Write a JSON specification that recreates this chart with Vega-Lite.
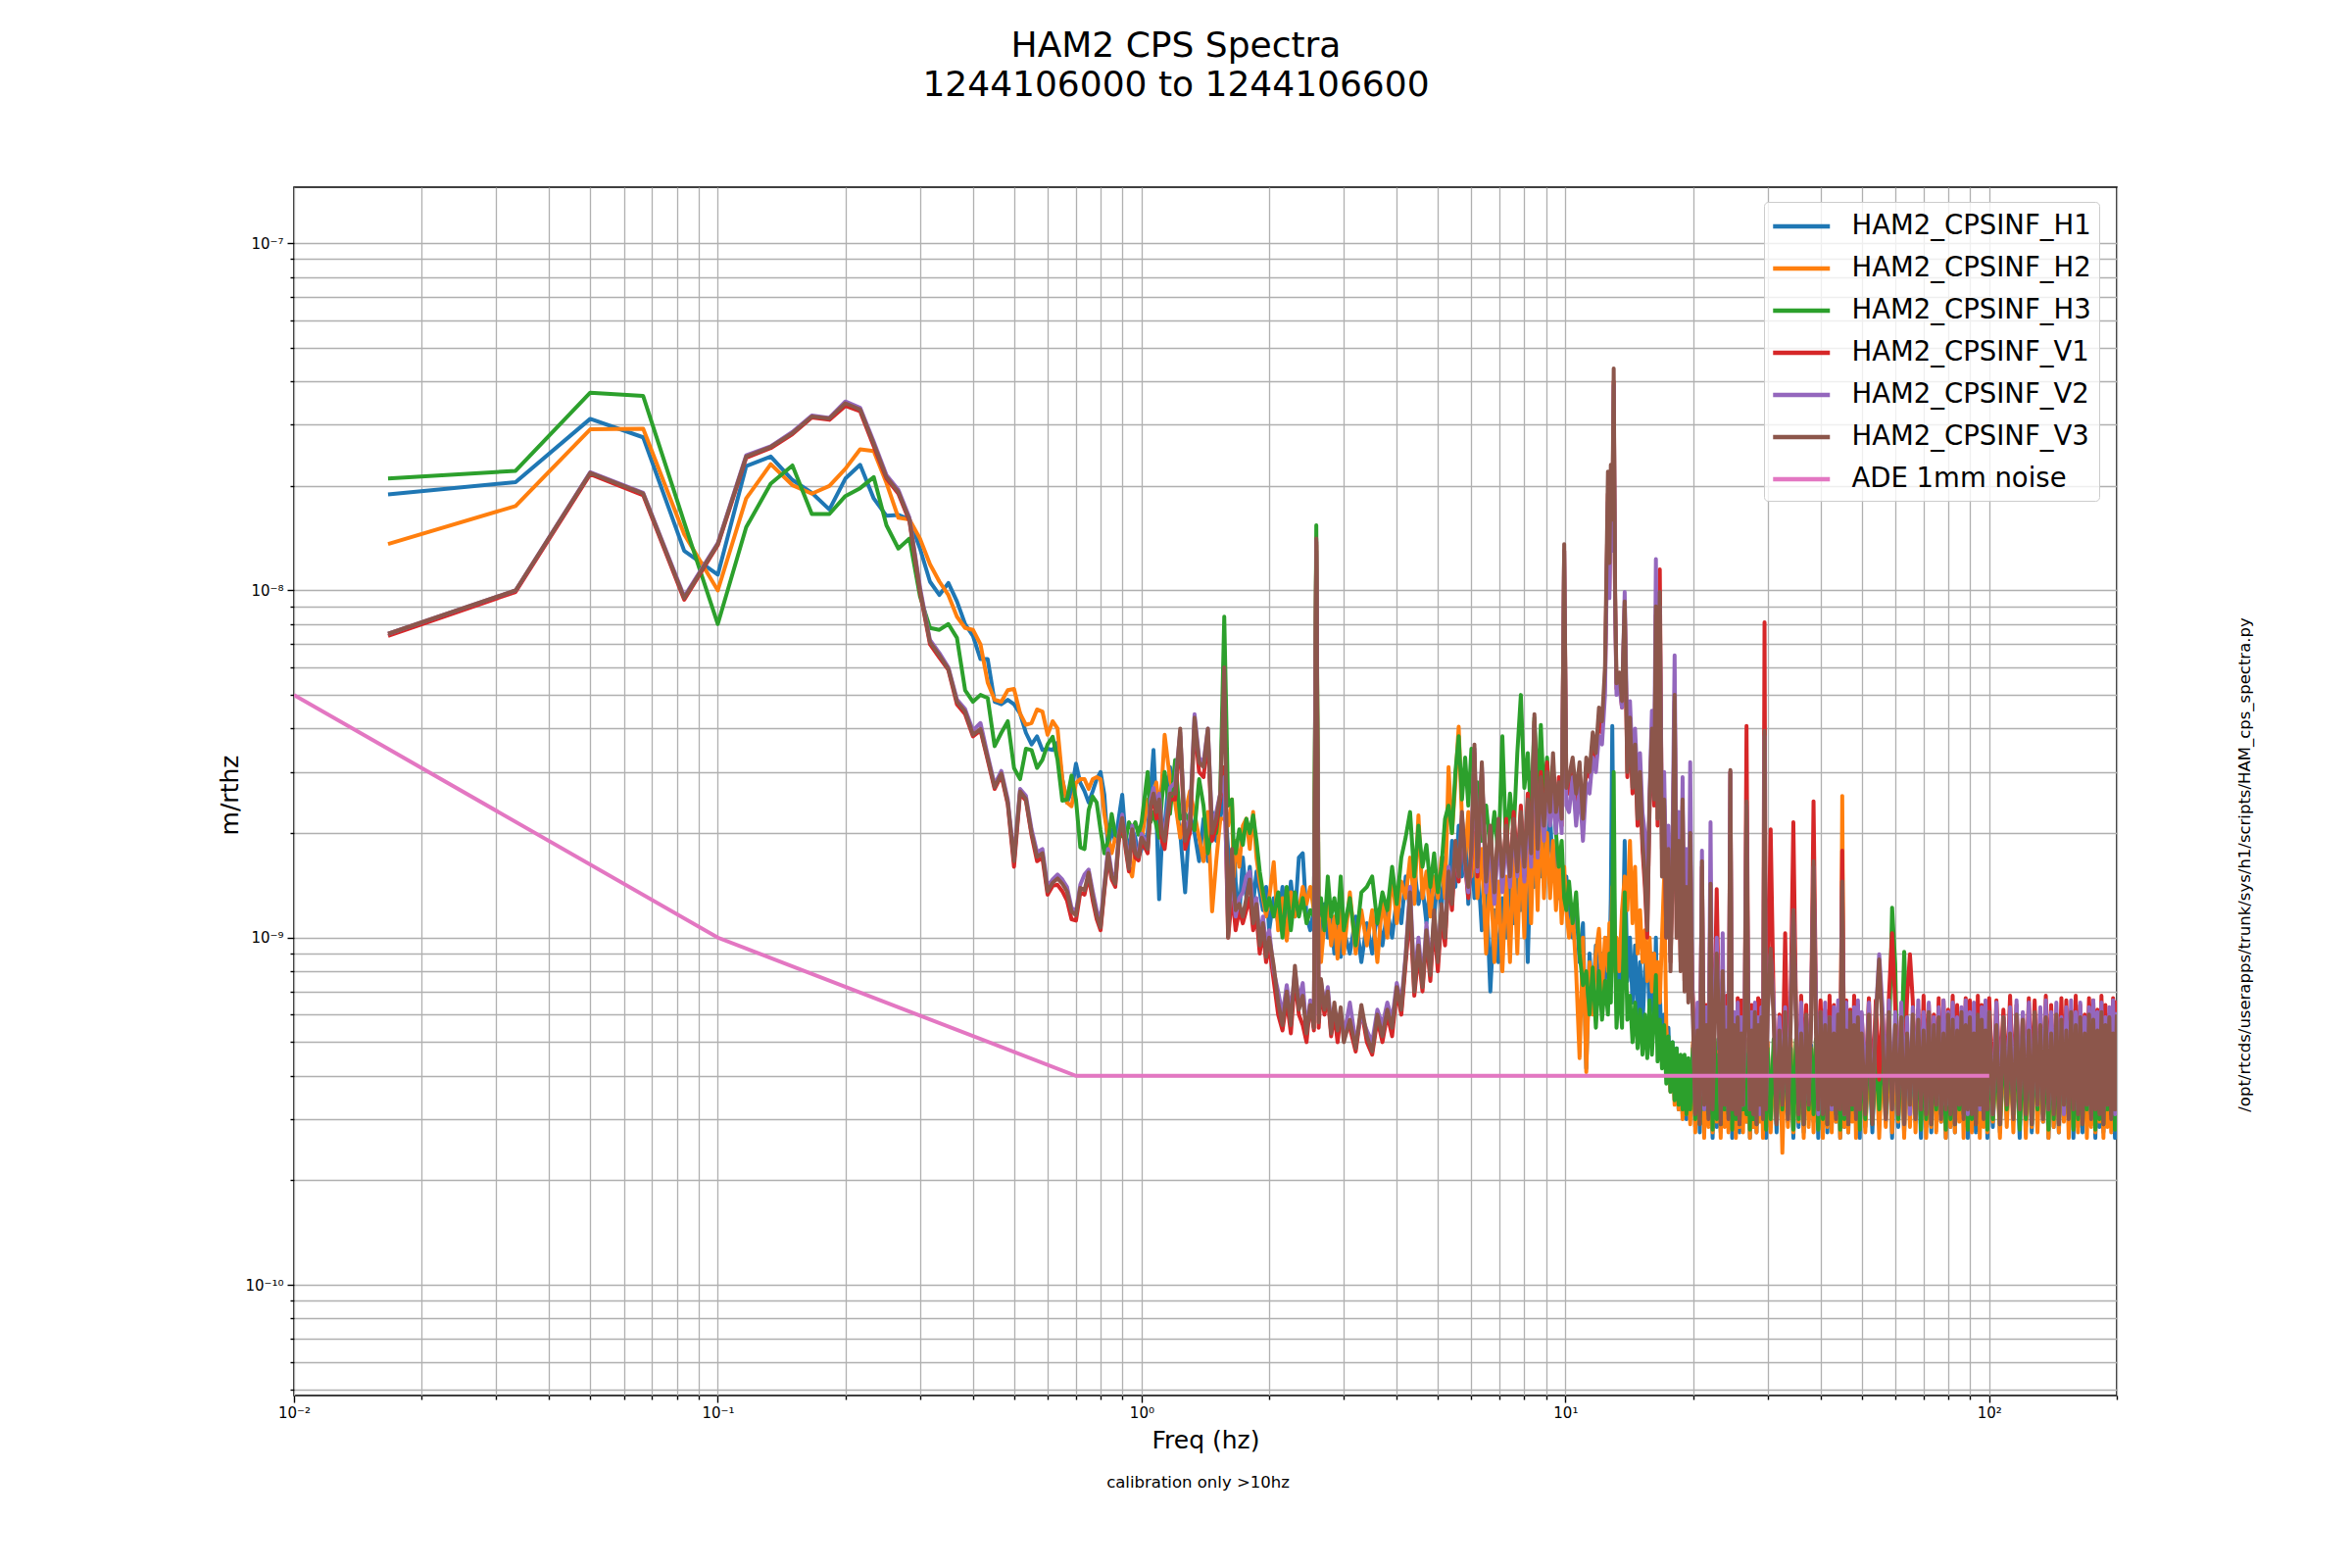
{
  "$schema": "https://vega.github.io/schema/vega-lite/v6.json",
  "description": "HAM2 CPS amplitude spectral densities, six sensors plus the ADE 1mm noise reference.",
  "width": 1860,
  "height": 1233,
  "autosize": {"type": "none"},
  "padding": {"left": 300, "top": 191, "right": 240, "bottom": 176},
  "background": "white",
  "config": {
    "font": "DejaVu Sans",
    "view": {"stroke": "black", "strokeWidth": 1.6}
  },
  "title": {
    "text": ["HAM2 CPS Spectra", "1244106000 to 1244106600"],
    "anchor": "middle",
    "frame": "group",
    "dx": -30,
    "offset": 85,
    "fontSize": 36,
    "fontWeight": "normal",
    "font": "DejaVu Sans",
    "lineHeight": 40,
    "color": "black"
  },
  "datasets": {
    "cps": [
      {"f":0.01667,"H1":1.89e-8,"H2":1.36e-8,"H3":2.10e-8,"V1":7.4e-9,"V2":7.5e-9,"V3":7.5e-9},
      {"f":0.03333,"H1":2.05e-8,"H2":1.75e-8,"H3":2.21e-8,"V1":9.9e-9,"V2":1.0e-8,"V3":1.0e-8},
      {"f":0.05,"H1":3.12e-8,"H2":2.91e-8,"H3":3.71e-8,"V1":2.16e-8,"V2":2.19e-8,"V3":2.18e-8},
      {"f":0.06667,"H1":2.76e-8,"H2":2.92e-8,"H3":3.63e-8,"V1":1.88e-8,"V2":1.91e-8,"V3":1.9e-8},
      {"f":0.08333,"H1":1.30e-8,"H2":1.45e-8,"H3":1.57e-8,"V1":9.4e-9,"V2":9.6e-9,"V3":9.5e-9},
      {"f":0.1,"H1":1.11e-8,"H2":1.0e-8,"H3":8.0e-9,"V1":1.35e-8,"V2":1.37e-8,"V3":1.36e-8},
      {"f":0.11667,"H1":2.28e-8,"H2":1.84e-8,"H3":1.52e-8,"V1":2.41e-8,"V2":2.45e-8,"V3":2.43e-8},
      {"f":0.13333,"H1":2.43e-8,"H2":2.31e-8,"H3":2.03e-8,"V1":2.57e-8,"V2":2.6e-8,"V3":2.59e-8},
      {"f":0.15,"H1":2.08e-8,"H2":2.01e-8,"H3":2.29e-8,"V1":2.82e-8,"V2":2.86e-8,"V3":2.84e-8},
      {"f":0.16667,"H1":1.91e-8,"H2":1.9e-8,"H3":1.66e-8,"V1":3.15e-8,"V2":3.19e-8,"V3":3.17e-8},
      {"f":0.18333,"H1":1.71e-8,"H2":2.0e-8,"H3":1.66e-8,"V1":3.1e-8,"V2":3.14e-8,"V3":3.13e-8},
      {"f":0.2,"H1":2.1e-8,"H2":2.24e-8,"H3":1.87e-8,"V1":3.4e-8,"V2":3.5e-8,"V3":3.46e-8},
      {"f":0.21667,"H1":2.3e-8,"H2":2.55e-8,"H3":1.97e-8,"V1":3.28e-8,"V2":3.36e-8,"V3":3.32e-8},
      {"f":0.23333,"H1":1.84e-8,"H2":2.52e-8,"H3":2.12e-8,"V1":2.6e-8,"V2":2.68e-8,"V3":2.64e-8},
      {"f":0.25,"H1":1.64e-8,"H2":2.04e-8,"H3":1.54e-8,"V1":2.1e-8,"V2":2.15e-8,"V3":2.12e-8},
      {"f":0.26667,"H1":1.65e-8,"H2":1.62e-8,"H3":1.32e-8,"V1":1.9e-8,"V2":1.95e-8,"V3":1.92e-8},
      {"f":0.28333,"H1":1.6e-8,"H2":1.6e-8,"H3":1.41e-8,"V1":1.58e-8,"V2":1.62e-8,"V3":1.6e-8},
      {"f":0.3,"H1":1.32e-8,"H2":1.41e-8,"H3":9.6e-9,"V1":9.9e-9,"V2":1.02e-8,"V3":1.0e-8},
      {"f":0.31667,"H1":1.06e-8,"H2":1.19e-8,"H3":7.8e-9,"V1":7.0e-9,"V2":7.2e-9,"V3":7.1e-9},
      {"f":0.33333,"H1":9.7e-9,"H2":1.06e-8,"H3":7.7e-9,"V1":6.4e-9,"V2":6.6e-9,"V3":6.5e-9},
      {"f":0.35,"H1":1.05e-8,"H2":9.7e-9,"H3":8.0e-9,"V1":5.9e-9,"V2":6.0e-9,"V3":5.94e-9},
      {"f":0.36667,"H1":9.3e-9,"H2":8.4e-9,"H3":7.3e-9,"V1":4.7e-9,"V2":4.85e-9,"V3":4.78e-9},
      {"f":0.38333,"H1":8.0e-9,"H2":7.8e-9,"H3":5.16e-9,"V1":4.4e-9,"V2":4.55e-9,"V3":4.48e-9},
      {"f":0.4,"H1":7.4e-9,"H2":7.7e-9,"H3":4.78e-9,"V1":3.8e-9,"V2":3.95e-9,"V3":3.84e-9},
      {"f":0.41667,"H1":6.34e-9,"H2":7.0e-9,"H3":5.0e-9,"V1":3.95e-9,"V2":4.15e-9,"V3":3.99e-9},
      {"f":0.43333,"H1":6.34e-9,"H2":5.43e-9,"H3":4.9e-9,"V1":3.25e-9,"V2":3.35e-9,"V3":3.29e-9},
      {"f":0.45,"H1":4.78e-9,"H2":4.84e-9,"H3":3.56e-9,"V1":2.68e-9,"V2":2.76e-9,"V3":2.71e-9},
      {"f":0.46667,"H1":4.7e-9,"H2":4.78e-9,"H3":3.89e-9,"V1":2.93e-9,"V2":3.02e-9,"V3":2.97e-9},
      {"f":0.48333,"H1":4.84e-9,"H2":5.16e-9,"H3":4.2e-9,"V1":2.42e-9,"V2":2.5e-9,"V3":2.45e-9},
      {"f":0.5,"H1":4.7e-9,"H2":5.2e-9,"H3":3.08e-9,"V1":1.6e-9,"V2":1.7e-9,"V3":1.66e-9},
      {"f":0.51667,"H1":4.42e-9,"H2":4.42e-9,"H3":2.86e-9,"V1":2.6e-9,"V2":2.68e-9,"V3":2.64e-9},
      {"f":0.53333,"H1":3.89e-9,"H2":4.1e-9,"H3":3.5e-9,"V1":2.48e-9,"V2":2.56e-9,"V3":2.51e-9},
      {"f":0.55,"H1":3.6e-9,"H2":4.15e-9,"H3":3.47e-9,"V1":1.97e-9,"V2":2.05e-9,"V3":2.0e-9},
      {"f":0.56667,"H1":3.8e-9,"H2":4.54e-9,"H3":3.08e-9,"V1":1.66e-9,"V2":1.76e-9,"V3":1.71e-9},
      {"f":0.58333,"H1":3.47e-9,"H2":4.48e-9,"H3":3.25e-9,"V1":1.7e-9,"V2":1.8e-9,"V3":1.75e-9},
      {"f":0.6,"H1":3.5e-9,"H2":3.84e-9,"H3":3.6e-9,"V1":1.33e-9,"V2":1.4e-9,"V3":1.36e-9},
      {"f":0.61667,"H1":3.47e-9,"H2":4.2e-9,"H3":3.79e-9,"V1":1.41e-9,"V2":1.47e-9,"V3":1.44e-9},
      {"f":0.63333,"H1":3.65e-9,"H2":4.0e-9,"H3":3.25e-9,"V1":1.42e-9,"V2":1.52e-9,"V3":1.48e-9},
      {"f":0.65,"H1":2.86e-9,"H2":2.86e-9,"H3":2.48e-9,"V1":1.36e-9,"V2":1.47e-9,"V3":1.43e-9},
      {"f":0.66667,"H1":2.45e-9,"H2":2.45e-9,"H3":2.5e-9,"V1":1.28e-9,"V2":1.4e-9,"V3":1.36e-9},
      {"f":0.68333,"H1":2.64e-9,"H2":2.39e-9,"H3":2.93e-9,"V1":1.13e-9,"V2":1.22e-9,"V3":1.19e-9},
      {"f":0.7,"H1":3.17e-9,"H2":2.79e-9,"H3":2.5e-9,"V1":1.12e-9,"V2":1.19e-9,"V3":1.16e-9},
      {"f":0.71667,"H1":2.79e-9,"H2":2.86e-9,"H3":1.82e-9,"V1":1.35e-9,"V2":1.42e-9,"V3":1.39e-9},
      {"f":0.73333,"H1":2.64e-9,"H2":2.86e-9,"H3":1.8e-9,"V1":1.33e-9,"V2":1.52e-9,"V3":1.37e-9},
      {"f":0.75,"H1":2.45e-9,"H2":2.68e-9,"H3":2.33e-9,"V1":1.5e-9,"V2":1.57e-9,"V3":1.54e-9},
      {"f":0.76667,"H1":2.64e-9,"H2":2.86e-9,"H3":2.55e-9,"V1":1.28e-9,"V2":1.36e-9,"V3":1.32e-9},
      {"f":0.78333,"H1":2.86e-9,"H2":2.9e-9,"H3":2.45e-9,"V1":1.13e-9,"V2":1.2e-9,"V3":1.16e-9},
      {"f":0.8,"H1":3.0e-9,"H2":2.86e-9,"H3":2.04e-9,"V1":1.05e-9,"V2":1.12e-9,"V3":1.07e-9},
      {"f":0.81667,"H1":2.58e-9,"H2":2.27e-9,"H3":1.75e-9,"V1":1.36e-9,"V2":1.42e-9,"V3":1.39e-9},
      {"f":0.83333,"H1":1.8e-9,"H2":1.94e-9,"H3":1.9e-9,"V1":1.7e-9,"V2":1.8e-9,"V3":1.75e-9},
      {"f":0.85,"H1":2.05e-9,"H2":1.75e-9,"H3":2.27e-9,"V1":1.47e-9,"V2":1.54e-9,"V3":1.5e-9},
      {"f":0.86667,"H1":1.9e-9,"H2":1.94e-9,"H3":1.98e-9,"V1":1.4e-9,"V2":1.47e-9,"V3":1.43e-9},
      {"f":0.88333,"H1":2.21e-9,"H2":1.9e-9,"H3":1.94e-9,"V1":1.9e-9,"V2":1.98e-9,"V3":1.94e-9},
      {"f":0.9,"H1":2.58e-9,"H2":2.1e-9,"H3":1.98e-9,"V1":2.17e-9,"V2":2.26e-9,"V3":2.21e-9},
      {"f":0.91667,"H1":1.94e-9,"H2":1.9e-9,"H3":1.9e-9,"V1":1.8e-9,"V2":1.9e-9,"V3":1.85e-9},
      {"f":0.93333,"H1":1.85e-9,"H2":1.6e-9,"H3":2.15e-9,"V1":1.55e-9,"V2":1.62e-9,"V3":1.58e-9},
      {"f":0.95,"H1":2.05e-9,"H2":1.5e-9,"H3":2.05e-9,"V1":2.0e-9,"V2":2.1e-9,"V3":2.05e-9},
      {"f":0.96667,"H1":1.94e-9,"H2":1.8e-9,"H3":2.15e-9,"V1":1.7e-9,"V2":1.8e-9,"V3":1.75e-9},
      {"f":0.98333,"H1":1.71e-9,"H2":1.71e-9,"H3":1.98e-9,"V1":1.67e-9,"V2":1.76e-9,"V3":1.71e-9},
      {"f":1.0,"H1":1.8e-9,"H2":1.9e-9,"H3":2.15e-9,"V1":1.9e-9,"V2":1.99e-9,"V3":1.94e-9},
      {"f":1.0333,"H1":2.0e-9,"H2":2.5e-9,"H3":3.0e-9,"V1":1.75e-9,"V2":1.85e-9,"V3":1.8e-9},
      {"f":1.05,"H1":2.64e-9,"H2":2.33e-9,"H3":2.15e-9,"V1":2.35e-9,"V2":2.5e-9,"V3":2.4e-9},
      {"f":1.0667,"H1":3.47e-9,"H2":2.6e-9,"H3":2.3e-9,"V1":2.5e-9,"V2":2.7e-9,"V3":2.6e-9},
      {"f":1.0833,"H1":2.3e-9,"H2":2.8e-9,"H3":2.1e-9,"V1":2.2e-9,"V2":2.4e-9,"V3":2.3e-9},
      {"f":1.1,"H1":1.29e-9,"H2":2.33e-9,"H3":1.94e-9,"V1":2.4e-9,"V2":2.6e-9,"V3":2.5e-9},
      {"f":1.1167,"H1":1.9e-9,"H2":2.8e-9,"H3":2.5e-9,"V1":1.9e-9,"V2":2.1e-9,"V3":2.0e-9},
      {"f":1.1333,"H1":2.1e-9,"H2":3.84e-9,"H3":3.0e-9,"V1":1.8e-9,"V2":2.0e-9,"V3":1.9e-9},
      {"f":1.1667,"H1":3.1e-9,"H2":2.86e-9,"H3":2.27e-9,"V1":2.5e-9,"V2":2.7e-9,"V3":2.6e-9},
      {"f":1.2,"H1":2.5e-9,"H2":2.45e-9,"H3":3.25e-9,"V1":2.5e-9,"V2":2.8e-9,"V3":2.6e-9},
      {"f":1.2333,"H1":2.0e-9,"H2":1.94e-9,"H3":2.2e-9,"V1":3.8e-9,"V2":3.9e-9,"V3":4.0e-9},
      {"f":1.2667,"H1":1.35e-9,"H2":2.27e-9,"H3":2.27e-9,"V1":1.8e-9,"V2":2.0e-9,"V3":1.9e-9},
      {"f":1.3,"H1":2.27e-9,"H2":2.64e-9,"H3":2.15e-9,"V1":2.0e-9,"V2":2.2e-9,"V3":2.1e-9},
      {"f":1.3333,"H1":2.0e-9,"H2":2.27e-9,"H3":2.04e-9,"V1":4.1e-9,"V2":4.4e-9,"V3":4.3e-9},
      {"f":1.3667,"H1":1.66e-9,"H2":1.94e-9,"H3":2.86e-9,"V1":3.0e-9,"V2":3.3e-9,"V3":3.2e-9},
      {"f":1.4,"H1":2.2e-9,"H2":1.66e-9,"H3":2.4e-9,"V1":2.9e-9,"V2":3.2e-9,"V3":3.1e-9},
      {"f":1.4333,"H1":1.66e-9,"H2":2.3e-9,"H3":1.75e-9,"V1":3.8e-9,"V2":4.0e-9,"V3":4.0e-9},
      {"f":1.4667,"H1":2.3e-9,"H2":1.19e-9,"H3":2.04e-9,"V1":1.9e-9,"V2":2.1e-9,"V3":2.0e-9},
      {"f":1.5,"H1":1.9e-9,"H2":1.66e-9,"H3":2.0e-9,"V1":2.1e-9,"V2":2.3e-9,"V3":2.2e-9},
      {"f":1.5333,"H1":2.2e-9,"H2":2.2e-9,"H3":2.6e-9,"V1":2.5e-9,"V2":2.6e-9,"V3":2.6e-9},
      {"f":1.5667,"H1":2.6e-9,"H2":2.2e-9,"H3":8.4e-9,"V1":3.1e-9,"V2":2.9e-9,"V3":6.0e-9},
      {"f":1.6,"H1":1.8e-9,"H2":2.1e-9,"H3":2.4e-9,"V1":1.0e-9,"V2":1.1e-9,"V3":1.0e-9},
      {"f":1.6333,"H1":1.5e-9,"H2":2.5e-9,"H3":2.5e-9,"V1":1.3e-9,"V2":1.5e-9,"V3":1.8e-9},
      {"f":1.65,"H1":1.9e-9,"H2":1.5e-9,"H3":1.8e-9,"V1":1.2e-9,"V2":1.3e-9,"V3":1.4e-9},
      {"f":1.6667,"H1":1.45e-9,"H2":1.9e-9,"H3":1.75e-9,"V1":1.05e-9,"V2":1.15e-9,"V3":1.2e-9},
      {"f":1.7,"H1":1.15e-9,"H2":1.6e-9,"H3":2.05e-9,"V1":1.2e-9,"V2":1.3e-9,"V3":1.25e-9},
      {"f":1.7333,"H1":1.7e-9,"H2":2.1e-9,"H3":1.85e-9,"V1":1.1e-9,"V2":1.35e-9,"V3":1.15e-9},
      {"f":1.7667,"H1":1.3e-9,"H2":2.2e-9,"H3":2.2e-9,"V1":1.2e-9,"V2":1.5e-9,"V3":1.3e-9},
      {"f":1.8,"H1":1.6e-9,"H2":1.8e-9,"H3":2.0e-9,"V1":1.3e-9,"V2":1.55e-9,"V3":1.47e-9},
      {"f":1.8333,"H1":1.25e-9,"H2":2.3e-9,"H3":2.25e-9,"V1":1.05e-9,"V2":1.2e-9,"V3":1.1e-9},
      {"f":1.8667,"H1":1.55e-9,"H2":1.7e-9,"H3":1.9e-9,"V1":1.15e-9,"V2":1.3e-9,"V3":1.25e-9},
      {"f":1.9,"H1":1.35e-9,"H2":1.45e-9,"H3":1.55e-9,"V1":9.0e-10,"V2":1.0e-9,"V3":9.5e-10},
      {"f":1.9333,"H1":1.2e-9,"H2":1.3e-9,"H3":1.35e-9,"V1":1.05e-9,"V2":1.15e-9,"V3":1.1e-9},
      {"f":1.9667,"H1":1.4e-9,"H2":1.15e-9,"H3":1.2e-9,"V1":8.5e-10,"V2":9.5e-10,"V3":8.8e-10},
      {"f":2.0,"H1":1.05e-9,"H2":1.3e-9,"H3":1.3e-9,"V1":9.5e-10,"V2":1.05e-9,"V3":1.0e-9},
      {"f":2.05,"H1":1.3e-9,"H2":1.65e-9,"H3":1.15e-9,"V1":7.5e-10,"V2":8.0e-10,"V3":8.3e-10},
      {"f":2.1,"H1":1.1e-9,"H2":1.05e-9,"H3":1.35e-9,"V1":6.0e-10,"V2":7.0e-10,"V3":6.5e-10},
      {"f":2.15,"H1":1.4e-9,"H2":1.3e-9,"H3":1.0e-9,"V1":5.4e-10,"V2":6.0e-10,"V3":5.6e-10},
      {"f":2.2,"H1":1.0e-9,"H2":9.8e-10,"H3":1.4e-9,"V1":6.6e-10,"V2":7.3e-10,"V3":7.0e-10},
      {"f":2.25,"H1":1.45e-9,"H2":1.35e-9,"H3":1.05e-9,"V1":5.3e-10,"V2":6.1e-10,"V3":5.6e-10},
      {"f":2.3,"H1":1.15e-9,"H2":1.15e-9,"H3":1.35e-9,"V1":7.6e-10,"V2":8.0e-10,"V3":8.3e-10},
      {"f":2.35,"H1":1.7e-9,"H2":1.2e-9,"H3":1.15e-9,"V1":6.0e-10,"V2":6.6e-10,"V3":6.2e-10},
      {"f":2.4,"H1":1.75e-9,"H2":1.4e-9,"H3":1.3e-9,"V1":5.6e-10,"V2":7.4e-10,"V3":6.8e-10},
      {"f":2.45,"H1":1.15e-9,"H2":1.25e-9,"H3":1.1e-9,"V1":5.0e-10,"V2":5.4e-10,"V3":5.3e-10},
      {"f":2.5,"H1":1.05e-9,"H2":1.4e-9,"H3":1.2e-9,"V1":6.5e-10,"V2":6.6e-10,"V3":6.4e-10},
      {"f":2.55,"H1":1.2e-9,"H2":1.2e-9,"H3":1.15e-9,"V1":5.4e-10,"V2":5.8e-10,"V3":5.5e-10},
      {"f":2.5833,"H1":1.3e-8,"H2":1.35e-8,"H3":1.54e-8,"V1":1.38e-8,"V2":1.39e-8,"V3":1.41e-8},
      {"f":2.6167,"H1":1.1e-9,"H2":1.2e-9,"H3":1.15e-9,"V1":5.5e-10,"V2":6.0e-10,"V3":5.7e-10},
      {"f":2.65,"H1":9.5e-10,"H2":8.5e-10,"H3":1.3e-9,"V1":7.2e-10,"V2":7.5e-10,"V3":7.6e-10},
      {"f":2.7,"H1":1.25e-9,"H2":1.1e-9,"H3":1.05e-9,"V1":6.0e-10,"V2":6.4e-10,"V3":6.2e-10},
      {"f":2.75,"H1":1.0e-9,"H2":1.25e-9,"H3":1.5e-9,"V1":6.8e-10,"V2":7.2e-10,"V3":7.0e-10},
      {"f":2.8,"H1":1.15e-9,"H2":9.5e-10,"H3":1.15e-9,"V1":5.2e-10,"V2":5.6e-10,"V3":5.3e-10},
      {"f":2.85,"H1":9.0e-10,"H2":1.15e-9,"H3":1.3e-9,"V1":6.0e-10,"V2":6.2e-10,"V3":6.5e-10},
      {"f":2.9,"H1":1.1e-9,"H2":8.7e-10,"H3":1.1e-9,"V1":5.0e-10,"V2":5.8e-10,"V3":5.4e-10},
      {"f":2.95,"H1":8.8e-10,"H2":1.2e-9,"H3":1.5e-9,"V1":6.0e-10,"V2":6.1e-10,"V3":6.3e-10},
      {"f":3.0,"H1":1.05e-9,"H2":9.0e-10,"H3":1.05e-9,"V1":5.4e-10,"V2":5.2e-10,"V3":5.0e-10},
      {"f":3.1,"H1":9.0e-10,"H2":1.35e-9,"H3":1.3e-9,"V1":5.5e-10,"V2":6.5e-10,"V3":5.8e-10},
      {"f":3.2,"H1":1.15e-9,"H2":9.0e-10,"H3":9.5e-10,"V1":4.7e-10,"V2":5.0e-10,"V3":4.8e-10},
      {"f":3.3,"H1":8.5e-10,"H2":1.2e-9,"H3":1.35e-9,"V1":6.2e-10,"V2":6.0e-10,"V3":6.4e-10},
      {"f":3.4,"H1":1.1e-9,"H2":9.5e-10,"H3":1.4e-9,"V1":5.0e-10,"V2":5.4e-10,"V3":5.2e-10},
      {"f":3.5,"H1":9.0e-10,"H2":1.2e-9,"H3":1.5e-9,"V1":4.6e-10,"V2":5.0e-10,"V3":4.7e-10},
      {"f":3.6,"H1":1.2e-9,"H2":8.5e-10,"H3":1.1e-9,"V1":5.8e-10,"V2":6.2e-10,"V3":6.0e-10},
      {"f":3.7,"H1":9.5e-10,"H2":1.3e-9,"H3":1.35e-9,"V1":5.0e-10,"V2":5.6e-10,"V3":5.2e-10},
      {"f":3.8,"H1":1.2e-9,"H2":1.0e-9,"H3":1.2e-9,"V1":6.0e-10,"V2":6.5e-10,"V3":6.2e-10},
      {"f":3.9,"H1":1.0e-9,"H2":1.55e-9,"H3":1.6e-9,"V1":5.2e-10,"V2":5.8e-10,"V3":5.5e-10},
      {"f":4.0,"H1":1.3e-9,"H2":1.1e-9,"H3":1.25e-9,"V1":7.0e-10,"V2":7.4e-10,"V3":7.2e-10},
      {"f":4.1,"H1":1.1e-9,"H2":1.45e-9,"H3":1.7e-9,"V1":6.0e-10,"V2":6.5e-10,"V3":6.2e-10},
      {"f":4.2,"H1":1.5e-9,"H2":1.3e-9,"H3":1.95e-9,"V1":8.5e-10,"V2":9.0e-10,"V3":8.8e-10},
      {"f":4.3,"H1":1.2e-9,"H2":1.7e-9,"H3":2.3e-9,"V1":1.2e-9,"V2":1.4e-9,"V3":1.35e-9},
      {"f":4.4,"H1":1.6e-9,"H2":1.25e-9,"H3":1.5e-9,"V1":6.8e-10,"V2":7.5e-10,"V3":7.0e-10},
      {"f":4.5,"H1":1.25e-9,"H2":2.25e-9,"H3":2.1e-9,"V1":9.0e-10,"V2":1.0e-9,"V3":9.5e-10},
      {"f":4.6,"H1":1.4e-9,"H2":1.3e-9,"H3":1.6e-9,"V1":7.0e-10,"V2":7.5e-10,"V3":7.2e-10},
      {"f":4.7,"H1":1.1e-9,"H2":1.55e-9,"H3":1.85e-9,"V1":1.0e-9,"V2":1.1e-9,"V3":1.05e-9},
      {"f":4.8,"H1":1.45e-9,"H2":1.15e-9,"H3":1.4e-9,"V1":7.5e-10,"V2":8.2e-10,"V3":7.8e-10},
      {"f":4.9,"H1":1.15e-9,"H2":1.5e-9,"H3":1.75e-9,"V1":1.1e-9,"V2":1.15e-9,"V3":1.2e-9},
      {"f":5.0,"H1":1.5e-9,"H2":1.3e-9,"H3":1.35e-9,"V1":8.0e-10,"V2":9.0e-10,"V3":8.5e-10},
      {"f":5.1,"H1":1.2e-9,"H2":1.7e-9,"H3":1.6e-9,"V1":1.15e-9,"V2":1.2e-9,"V3":1.25e-9},
      {"f":5.2,"H1":1.7e-9,"H2":1.3e-9,"H3":2.2e-9,"V1":9.5e-10,"V2":1.05e-9,"V3":1.0e-9},
      {"f":5.3,"H1":1.3e-9,"H2":3.1e-9,"H3":2.4e-9,"V1":1.5e-9,"V2":1.6e-9,"V3":1.55e-9},
      {"f":5.4,"H1":1.9e-9,"H2":2.0e-9,"H3":2.0e-9,"V1":1.2e-9,"V2":1.3e-9,"V3":1.25e-9},
      {"f":5.5,"H1":1.4e-9,"H2":2.8e-9,"H3":3.0e-9,"V1":1.8e-9,"V2":1.85e-9,"V3":1.9e-9},
      {"f":5.6,"H1":2.1e-9,"H2":4.05e-9,"H3":3.8e-9,"V1":1.45e-9,"V2":1.5e-9,"V3":1.5e-9},
      {"f":5.7,"H1":1.5e-9,"H2":2.2e-9,"H3":2.5e-9,"V1":2.2e-9,"V2":2.25e-9,"V3":2.3e-9},
      {"f":5.8,"H1":2.0e-9,"H2":1.7e-9,"H3":3.3e-9,"V1":1.6e-9,"V2":1.6e-9,"V3":1.65e-9},
      {"f":5.9,"H1":1.25e-9,"H2":2.3e-9,"H3":2.4e-9,"V1":1.3e-9,"V2":1.35e-9,"V3":1.4e-9},
      {"f":6.0,"H1":1.8e-9,"H2":1.5e-9,"H3":3.5e-9,"V1":1.7e-9,"V2":1.75e-9,"V3":1.8e-9},
      {"f":6.1,"H1":1.3e-9,"H2":2.0e-9,"H3":2.2e-9,"V1":3.4e-9,"V2":3.5e-9,"V3":3.6e-9},
      {"f":6.2,"H1":1.7e-9,"H2":1.3e-9,"H3":2.8e-9,"V1":1.5e-9,"V2":1.55e-9,"V3":1.6e-9},
      {"f":6.35,"H1":1.05e-9,"H2":1.8e-9,"H3":1.9e-9,"V1":3.0e-9,"V2":3.1e-9,"V3":3.2e-9},
      {"f":6.5,"H1":1.4e-9,"H2":9.0e-10,"H3":2.4e-9,"V1":1.4e-9,"V2":1.35e-9,"V3":1.45e-9},
      {"f":6.65,"H1":7.0e-10,"H2":1.6e-9,"H3":1.8e-9,"V1":2.0e-9,"V2":1.9e-9,"V3":2.1e-9},
      {"f":6.8,"H1":1.2e-9,"H2":8.5e-10,"H3":2.3e-9,"V1":1.3e-9,"V2":1.25e-9,"V3":1.35e-9},
      {"f":6.95,"H1":8.5e-10,"H2":1.45e-9,"H3":1.7e-9,"V1":2.1e-9,"V2":2.0e-9,"V3":2.2e-9},
      {"f":7.1,"H1":1.3e-9,"H2":8.0e-10,"H3":3.8e-9,"V1":1.4e-9,"V2":1.35e-9,"V3":1.5e-9},
      {"f":7.25,"H1":1.0e-9,"H2":1.5e-9,"H3":1.8e-9,"V1":2.2e-9,"V2":2.0e-9,"V3":2.1e-9},
      {"f":7.4,"H1":1.5e-9,"H2":8.5e-10,"H3":2.6e-9,"V1":1.45e-9,"V2":1.4e-9,"V3":1.5e-9},
      {"f":7.55,"H1":1.1e-9,"H2":1.7e-9,"H3":2.0e-9,"V1":2.3e-9,"V2":2.1e-9,"V3":2.2e-9},
      {"f":7.7,"H1":1.6e-9,"H2":9.0e-10,"H3":3.4e-9,"V1":1.6e-9,"V2":1.5e-9,"V3":1.55e-9},
      {"f":7.85,"H1":1.2e-9,"H2":1.9e-9,"H3":5.0e-9,"V1":2.4e-9,"V2":2.2e-9,"V3":2.3e-9},
      {"f":8.0,"H1":1.8e-9,"H2":1.0e-9,"H3":2.7e-9,"V1":1.5e-9,"V2":1.45e-9,"V3":1.6e-9},
      {"f":8.15,"H1":8.5e-10,"H2":2.2e-9,"H3":3.4e-9,"V1":2.6e-9,"V2":2.3e-9,"V3":2.5e-9},
      {"f":8.3,"H1":1.9e-9,"H2":1.1e-9,"H3":2.2e-9,"V1":1.7e-9,"V2":1.6e-9,"V3":1.75e-9},
      {"f":8.45,"H1":1.4e-9,"H2":2.3e-9,"H3":4.3e-9,"V1":4.2e-9,"V2":4.1e-9,"V3":4.4e-9},
      {"f":8.6,"H1":2.1e-9,"H2":1.2e-9,"H3":2.6e-9,"V1":1.8e-9,"V2":1.7e-9,"V3":1.8e-9},
      {"f":8.75,"H1":1.5e-9,"H2":2.4e-9,"H3":4.1e-9,"V1":3.0e-9,"V2":2.7e-9,"V3":2.9e-9},
      {"f":8.9,"H1":2.2e-9,"H2":1.3e-9,"H3":2.5e-9,"V1":2.0e-9,"V2":1.9e-9,"V3":2.1e-9},
      {"f":9.05,"H1":1.6e-9,"H2":2.0e-9,"H3":3.3e-9,"V1":3.2e-9,"V2":2.8e-9,"V3":3.0e-9},
      {"f":9.2,"H1":2.3e-9,"H2":1.3e-9,"H3":2.4e-9,"V1":2.2e-9,"V2":2.1e-9,"V3":2.3e-9},
      {"f":9.35,"H1":1.5e-9,"H2":1.9e-9,"H3":2.9e-9,"V1":2.8e-9,"V2":2.6e-9,"V3":3.4e-9},
      {"f":9.5,"H1":1.8e-9,"H2":1.2e-9,"H3":2.0e-9,"V1":2.2e-9,"V2":2.0e-9,"V3":2.3e-9},
      {"f":9.65,"H1":1.3e-9,"H2":1.7e-9,"H3":1.6e-9,"V1":2.9e-9,"V2":2.6e-9,"V3":2.8e-9},
      {"f":9.8,"H1":1.7e-9,"H2":1.1e-9,"H3":1.9e-9,"V1":2.1e-9,"V2":2.0e-9,"V3":2.2e-9},
      {"f":9.9333,"H1":1.3e-9,"H2":1.6e-9,"H3":1.3e-9,"V1":1.3e-8,"V2":1.3e-8,"V3":1.36e-8},
      {"f":10.05,"H1":1.5e-9,"H2":1.2e-9,"H3":1.2e-9,"V1":2.8e-9,"V2":2.4e-9,"V3":2.7e-9},
      {"f":10.2,"H1":1.15e-9,"H2":1.0e-9,"H3":1.45e-9,"V1":2.6e-9,"V2":2.3e-9,"V3":2.9e-9},
      {"f":10.4,"H1":1.0e-9,"H2":1.2e-9,"H3":1.1e-9,"V1":3.1e-9,"V2":2.9e-9,"V3":3.3e-9},
      {"f":10.6,"H1":1.25e-9,"H2":8.0e-10,"H3":1.35e-9,"V1":2.4e-9,"V2":2.1e-9,"V3":2.6e-9},
      {"f":10.8,"H1":8.5e-10,"H2":4.5e-10,"H3":9.0e-10,"V1":3.0e-9,"V2":2.7e-9,"V3":3.2e-9},
      {"f":11.0,"H1":1.1e-9,"H2":1.0e-9,"H3":7.3e-10,"V1":2.1e-9,"V2":1.9e-9,"V3":2.2e-9},
      {"f":11.2,"H1":4.2e-10,"H2":4.1e-10,"H3":8.0e-10,"V1":3.1e-9,"V2":2.8e-9,"V3":3.3e-9},
      {"f":11.4,"H1":9.0e-10,"H2":8.5e-10,"H3":6.0e-10,"V1":2.9e-9,"V2":2.6e-9,"V3":3.0e-9},
      {"f":11.6,"H1":6.5e-10,"H2":6.0e-10,"H3":8.2e-10,"V1":3.6e-9,"V2":3.3e-9,"V3":3.9e-9},
      {"f":11.8,"H1":9.5e-10,"H2":9.0e-10,"H3":5.5e-10,"V1":3.2e-9,"V2":3.0e-9,"V3":3.4e-9},
      {"f":12.0,"H1":7.0e-10,"H2":1.06e-9,"H3":8.0e-10,"V1":4.2e-9,"V2":3.8e-9,"V3":4.6e-9},
      {"f":12.2,"H1":9.0e-10,"H2":7.0e-10,"H3":5.8e-10,"V1":3.9e-9,"V2":3.6e-9,"V3":4.2e-9},
      {"f":12.4,"H1":7.5e-10,"H2":1.0e-9,"H3":7.5e-10,"V1":5.5e-9,"V2":5.0e-9,"V3":6.0e-9},
      {"f":12.6,"H1":1.0e-9,"H2":8.0e-10,"H3":6.0e-10,"V1":1.9e-8,"V2":1.8e-8,"V3":2.2e-8},
      {"f":12.7,"H1":8.0e-10,"H2":1.1e-9,"H3":9.0e-10,"V1":1.0e-8,"V2":9.5e-9,"V3":1.2e-8},
      {"f":12.8,"H1":1.3e-9,"H2":9.0e-10,"H3":6.5e-10,"V1":2.0e-8,"V2":1.9e-8,"V3":2.3e-8},
      {"f":12.9,"H1":4.07e-9,"H2":1.4e-9,"H3":1.2e-9,"V1":1.4e-8,"V2":1.3e-8,"V3":1.6e-8},
      {"f":13.0,"H1":1.5e-9,"H2":1.2e-9,"H3":3.0e-9,"V1":4.0e-8,"V2":3.9e-8,"V3":4.36e-8},
      {"f":13.1,"H1":9.0e-10,"H2":8.0e-10,"H3":9.0e-10,"V1":9.5e-9,"V2":9.0e-9,"V3":1.0e-8},
      {"f":13.2,"H1":7.0e-10,"H2":1.0e-9,"H3":5.5e-10,"V1":5.2e-9,"V2":5.0e-9,"V3":5.4e-9},
      {"f":13.4,"H1":9.0e-10,"H2":8.0e-10,"H3":7.5e-10,"V1":5.5e-9,"V2":5.3e-9,"V3":5.8e-9},
      {"f":13.6,"H1":7.0e-10,"H2":1.2e-9,"H3":5.5e-10,"V1":4.6e-9,"V2":4.6e-9,"V3":4.8e-9},
      {"f":13.8,"H1":1.9e-9,"H2":1.5e-9,"H3":1.35e-9,"V1":9.0e-9,"V2":9.9e-9,"V3":9.3e-9},
      {"f":14.0,"H1":7.5e-10,"H2":1.2e-9,"H3":5.8e-10,"V1":2.9e-9,"V2":3.6e-9,"V3":3.0e-9},
      {"f":14.2,"H1":1.0e-9,"H2":1.9e-9,"H3":6.8e-10,"V1":4.1e-9,"V2":4.8e-9,"V3":4.3e-9},
      {"f":14.4,"H1":6.5e-10,"H2":1.1e-9,"H3":5.0e-10,"V1":2.6e-9,"V2":3.2e-9,"V3":2.7e-9},
      {"f":14.6,"H1":9.5e-10,"H2":1.6e-9,"H3":6.5e-10,"V1":3.4e-9,"V2":4.0e-9,"V3":3.6e-9},
      {"f":14.8,"H1":6.0e-10,"H2":9.0e-10,"H3":4.8e-10,"V1":2.1e-9,"V2":2.8e-9,"V3":2.2e-9},
      {"f":15.0,"H1":8.5e-10,"H2":1.2e-9,"H3":6.2e-10,"V1":2.8e-9,"V2":3.4e-9,"V3":3.0e-9},
      {"f":15.2,"H1":5.5e-10,"H2":8.5e-10,"H3":4.6e-10,"V1":1.8e-9,"V2":2.3e-9,"V3":1.9e-9},
      {"f":15.4,"H1":8.0e-10,"H2":1.05e-9,"H3":6.0e-10,"V1":1.4e-9,"V2":2.0e-9,"V3":1.5e-9},
      {"f":15.6,"H1":9.5e-10,"H2":7.5e-10,"H3":4.5e-10,"V1":1.0e-9,"V2":1.3e-9,"V3":1.05e-9},
      {"f":15.8,"H1":6.0e-10,"H2":1.0e-9,"H3":6.6e-10,"V1":2.4e-9,"V2":2.6e-9,"V3":2.5e-9},
      {"f":16.0,"H1":9.0e-10,"H2":7.0e-10,"H3":4.6e-10,"V1":3.8e-9,"V2":4.5e-9,"V3":4.0e-9},
      {"f":16.2,"H1":5.5e-10,"H2":9.0e-10,"H3":6.0e-10,"V1":2.4e-9,"V2":3.0e-9,"V3":2.5e-9},
      {"f":16.35,"H1":1.0e-9,"H2":7.0e-10,"H3":7.8e-10,"V1":8.5e-9,"V2":1.23e-8,"V3":9.0e-9},
      {"f":16.5,"H1":5.0e-10,"H2":8.5e-10,"H3":4.4e-10,"V1":2.1e-9,"V2":2.6e-9,"V3":2.2e-9},
      {"f":16.7,"H1":7.0e-10,"H2":6.5e-10,"H3":5.8e-10,"V1":1.15e-8,"V2":9.0e-9,"V3":9.9e-9},
      {"f":16.9,"H1":4.5e-10,"H2":1.0e-9,"H3":4.2e-10,"V1":1.8e-9,"V2":2.0e-9,"V3":1.5e-9},
      {"f":17.1,"H1":6.0e-10,"H2":1.5e-9,"H3":5.6e-10,"V1":2.4e-9,"V2":3.0e-9,"V3":2.5e-9},
      {"f":17.3,"H1":4.0e-10,"H2":5.5e-10,"H3":3.8e-10,"V1":1.0e-9,"V2":1.4e-9,"V3":1.0e-9},
      {"f":17.5,"H1":5.5e-10,"H2":4.5e-10,"H3":5.2e-10,"V1":1.7e-9,"V2":2.1e-9,"V3":1.8e-9},
      {"f":17.7,"H1":3.6e-10,"H2":3.6e-10,"H3":3.6e-10,"V1":8.5e-10,"V2":1.0e-9,"V3":8.0e-10},
      {"f":17.9,"H1":5.0e-10,"H2":4.8e-10,"H3":5.0e-10,"V1":1.5e-9,"V2":2.0e-9,"V3":1.5e-9},
      {"f":18.1,"H1":3.4e-10,"H2":3.3e-10,"H3":3.4e-10,"V1":4.8e-9,"V2":6.5e-9,"V3":5.0e-9},
      {"f":18.3,"H1":4.8e-10,"H2":4.6e-10,"H3":4.8e-10,"V1":1.0e-9,"V2":1.3e-9,"V3":1.0e-9},
      {"f":18.5,"H1":3.2e-10,"H2":3.2e-10,"H3":3.3e-10,"V1":1.8e-9,"V2":2.3e-9,"V3":1.9e-9},
      {"f":18.7,"H1":4.5e-10,"H2":4.4e-10,"H3":4.6e-10,"V1":8.5e-10,"V2":1.0e-9,"V3":8.0e-10},
      {"f":18.9,"H1":3.1e-10,"H2":3.0e-10,"H3":3.2e-10,"V1":2.4e-9,"V2":2.9e-9,"V3":2.5e-9},
      {"f":19.1,"H1":4.4e-10,"H2":4.3e-10,"H3":4.6e-10,"V1":7.5e-10,"V2":9.0e-10,"V3":7.0e-10},
      {"f":19.3,"H1":3.0e-10,"H2":3.1e-10,"H3":3.1e-10,"V1":1.4e-9,"V2":1.8e-9,"V3":1.4e-9},
      {"f":19.5,"H1":4.3e-10,"H2":4.2e-10,"H3":4.5e-10,"V1":7.0e-10,"V2":7.5e-10,"V3":6.5e-10},
      {"f":19.7,"H1":3.1e-10,"H2":2.9e-10,"H3":3.2e-10,"V1":1.9e-9,"V2":3.2e-9,"V3":2.0e-9},
      {"f":19.9,"H1":4.2e-10,"H2":4.1e-10,"H3":4.4e-10,"V1":7.5e-10,"V2":8.0e-10,"V3":7.0e-10},
      {"f":20.0,"H1":4.9e-10,"H2":5.0e-10,"H3":4.8e-10,"V1":6.6e-10,"V2":6.1e-10,"V3":5.8e-10},
      {"f":20.25,"H1":2.85e-10,"H2":2.75e-10,"H3":3.0e-10,"V1":3.7e-10,"V2":3.3e-10,"V3":3.1e-10},
      {"f":20.5,"H1":4.6e-10,"H2":4.7e-10,"H3":5.1e-10,"V1":6.2e-10,"V2":6.5e-10,"V3":5.4e-10},
      {"f":20.75,"H1":2.75e-10,"H2":2.95e-10,"H3":2.9e-10,"V1":3.6e-10,"V2":3.5e-10,"V3":2.9e-10},
      {"f":21.0,"H1":5.1e-10,"H2":5.2e-10,"H3":4.6e-10,"V1":1.6e-9,"V2":1.78e-9,"V3":1.66e-9},
      {"f":21.25,"H1":3.0e-10,"H2":2.65e-10,"H3":3.2e-10,"V1":3.9e-10,"V2":3.2e-10,"V3":3.3e-10},
      {"f":21.5,"H1":4.8e-10,"H2":4.8e-10,"H3":5.0e-10,"V1":6.4e-10,"V2":6.3e-10,"V3":5.6e-10},
      {"f":21.75,"H1":2.95e-10,"H2":2.85e-10,"H3":3.1e-10,"V1":3.8e-10,"V2":3.4e-10,"V3":3.0e-10},
      {"f":22.0,"H1":4.9e-10,"H2":5.1e-10,"H3":4.8e-10,"V1":1.4e-9,"V2":2.15e-9,"V3":1.43e-9},
      {"f":22.25,"H1":2.65e-10,"H2":2.75e-10,"H3":2.8e-10,"V1":3.7e-10,"V2":3.6e-10,"V3":3.2e-10},
      {"f":22.5,"H1":4.6e-10,"H2":5.0e-10,"H3":5.1e-10,"V1":6.7e-10,"V2":6.1e-10,"V3":5.3e-10},
      {"f":22.75,"H1":2.85e-10,"H2":2.95e-10,"H3":3.0e-10,"V1":1.38e-9,"V2":1.0e-9,"V3":9.0e-10},
      {"f":23.0,"H1":5.1e-10,"H2":4.7e-10,"H3":4.6e-10,"V1":6.6e-10,"V2":6.5e-10,"V3":6.0e-10},
      {"f":23.25,"H1":2.75e-10,"H2":2.65e-10,"H3":2.9e-10,"V1":3.9e-10,"V2":3.3e-10,"V3":2.9e-10},
      {"f":23.5,"H1":4.8e-10,"H2":5.2e-10,"H3":5.0e-10,"V1":6.2e-10,"V2":1.03e-9,"V3":8.0e-10},
      {"f":23.75,"H1":3.0e-10,"H2":2.85e-10,"H3":3.2e-10,"V1":3.8e-10,"V2":3.5e-10,"V3":3.3e-10},
      {"f":24.0,"H1":4.9e-10,"H2":4.8e-10,"H3":4.8e-10,"V1":6.8e-10,"V2":6.3e-10,"V3":5.4e-10},
      {"f":24.25,"H1":2.95e-10,"H2":2.75e-10,"H3":3.1e-10,"V1":3.7e-10,"V2":3.2e-10,"V3":3.0e-10},
      {"f":24.5,"H1":4.6e-10,"H2":5.1e-10,"H3":5.1e-10,"V1":3.0e-9,"V2":3.0e-9,"V3":3.04e-9},
      {"f":24.75,"H1":2.65e-10,"H2":2.95e-10,"H3":2.8e-10,"V1":3.6e-10,"V2":3.4e-10,"V3":3.2e-10},
      {"f":25.0,"H1":5.1e-10,"H2":5.0e-10,"H3":4.6e-10,"V1":6.0e-10,"V2":6.1e-10,"V3":5.6e-10},
      {"f":25.25,"H1":2.85e-10,"H2":2.65e-10,"H3":3.0e-10,"V1":3.9e-10,"V2":3.6e-10,"V3":3.1e-10},
      {"f":25.5,"H1":4.8e-10,"H2":4.7e-10,"H3":5.0e-10,"V1":6.7e-10,"V2":6.5e-10,"V3":5.9e-10},
      {"f":25.75,"H1":2.75e-10,"H2":2.85e-10,"H3":2.9e-10,"V1":3.8e-10,"V2":3.1e-10,"V3":2.9e-10},
      {"f":26.0,"H1":4.9e-10,"H2":5.2e-10,"H3":4.8e-10,"V1":6.6e-10,"V2":5.9e-10,"V3":5.3e-10},
      {"f":26.25,"H1":3.0e-10,"H2":2.75e-10,"H3":3.2e-10,"V1":3.7e-10,"V2":3.3e-10,"V3":3.3e-10},
      {"f":26.5,"H1":4.6e-10,"H2":4.8e-10,"H3":5.1e-10,"V1":6.2e-10,"V2":6.3e-10,"V3":6.0e-10},
      {"f":26.75,"H1":2.95e-10,"H2":2.95e-10,"H3":3.1e-10,"V1":4.07e-9,"V2":2.4e-9,"V3":2.47e-9},
      {"f":27.0,"H1":5.1e-10,"H2":5.1e-10,"H3":4.6e-10,"V1":6.8e-10,"V2":6.6e-10,"V3":5.8e-10},
      {"f":27.25,"H1":2.65e-10,"H2":2.65e-10,"H3":2.8e-10,"V1":3.9e-10,"V2":3.2e-10,"V3":3.2e-10},
      {"f":27.5,"H1":4.8e-10,"H2":5.0e-10,"H3":5.0e-10,"V1":6.4e-10,"V2":6.1e-10,"V3":5.4e-10},
      {"f":27.75,"H1":2.85e-10,"H2":2.85e-10,"H3":3.0e-10,"V1":3.8e-10,"V2":3.4e-10,"V3":3.1e-10},
      {"f":28.0,"H1":4.9e-10,"H2":4.7e-10,"H3":4.8e-10,"V1":6.0e-10,"V2":6.5e-10,"V3":6.1e-10},
      {"f":28.25,"H1":2.75e-10,"H2":2.75e-10,"H3":2.9e-10,"V1":3.7e-10,"V2":3.6e-10,"V3":2.9e-10},
      {"f":28.5,"H1":4.6e-10,"H2":5.2e-10,"H3":5.1e-10,"V1":6.7e-10,"V2":5.9e-10,"V3":5.6e-10},
      {"f":28.75,"H1":3.0e-10,"H2":2.95e-10,"H3":3.2e-10,"V1":3.6e-10,"V2":3.1e-10,"V3":3.3e-10},
      {"f":29.0,"H1":5.1e-10,"H2":4.8e-10,"H3":4.6e-10,"V1":6.6e-10,"V2":6.3e-10,"V3":5.9e-10},
      {"f":29.25,"H1":2.95e-10,"H2":2.65e-10,"H3":3.1e-10,"V1":3.9e-10,"V2":3.3e-10,"V3":3.0e-10},
      {"f":29.5,"H1":4.8e-10,"H2":5.1e-10,"H3":5.0e-10,"V1":8.1e-9,"V2":3.8e-9,"V3":3.94e-9},
      {"f":29.75,"H1":2.65e-10,"H2":2.85e-10,"H3":2.8e-10,"V1":3.8e-10,"V2":3.5e-10,"V3":3.2e-10},
      {"f":30.0,"H1":4.9e-10,"H2":5.0e-10,"H3":4.8e-10,"V1":6.8e-10,"V2":6.1e-10,"V3":6.0e-10},
      {"f":30.5,"H1":2.85e-10,"H2":2.75e-10,"H3":3.0e-10,"V1":2.05e-9,"V2":9.0e-10,"V3":9.3e-10},
      {"f":31.0,"H1":4.6e-10,"H2":4.7e-10,"H3":5.1e-10,"V1":6.4e-10,"V2":6.5e-10,"V3":5.8e-10},
      {"f":31.5,"H1":2.75e-10,"H2":2.95e-10,"H3":2.9e-10,"V1":3.6e-10,"V2":3.4e-10,"V3":2.9e-10},
      {"f":32.0,"H1":5.1e-10,"H2":5.2e-10,"H3":4.6e-10,"V1":6.0e-10,"V2":5.9e-10,"V3":5.4e-10},
      {"f":32.5,"H1":3.0e-10,"H2":2.4e-10,"H3":3.2e-10,"V1":3.9e-10,"V2":3.6e-10,"V3":3.3e-10},
      {"f":33.0,"H1":4.8e-10,"H2":4.8e-10,"H3":5.0e-10,"V1":1.03e-9,"V2":6.3e-10,"V3":6.1e-10},
      {"f":33.5,"H1":2.95e-10,"H2":2.85e-10,"H3":3.1e-10,"V1":3.8e-10,"V2":3.1e-10,"V3":3.0e-10},
      {"f":34.0,"H1":4.9e-10,"H2":5.1e-10,"H3":4.8e-10,"V1":6.6e-10,"V2":6.6e-10,"V3":5.6e-10},
      {"f":34.5,"H1":2.65e-10,"H2":2.75e-10,"H3":2.8e-10,"V1":2.15e-9,"V2":1.2e-9,"V3":1.2e-9},
      {"f":35.0,"H1":4.6e-10,"H2":5.0e-10,"H3":5.1e-10,"V1":6.2e-10,"V2":6.1e-10,"V3":5.9e-10},
      {"f":35.5,"H1":2.85e-10,"H2":2.95e-10,"H3":3.0e-10,"V1":3.6e-10,"V2":3.5e-10,"V3":3.1e-10},
      {"f":36.0,"H1":5.1e-10,"H2":4.7e-10,"H3":4.6e-10,"V1":6.8e-10,"V2":6.5e-10,"V3":5.3e-10},
      {"f":36.5,"H1":2.75e-10,"H2":2.65e-10,"H3":2.9e-10,"V1":3.9e-10,"V2":3.2e-10,"V3":2.9e-10},
      {"f":37.0,"H1":4.8e-10,"H2":5.2e-10,"H3":5.0e-10,"V1":6.4e-10,"V2":5.9e-10,"V3":6.0e-10},
      {"f":37.5,"H1":3.0e-10,"H2":2.85e-10,"H3":3.2e-10,"V1":3.8e-10,"V2":3.4e-10,"V3":3.3e-10},
      {"f":38.0,"H1":4.9e-10,"H2":4.8e-10,"H3":4.8e-10,"V1":6.0e-10,"V2":6.3e-10,"V3":5.8e-10},
      {"f":38.5,"H1":2.95e-10,"H2":2.75e-10,"H3":3.1e-10,"V1":2.47e-9,"V2":1.6e-9,"V3":1.66e-9},
      {"f":39.0,"H1":4.6e-10,"H2":5.1e-10,"H3":5.1e-10,"V1":6.7e-10,"V2":6.6e-10,"V3":5.4e-10},
      {"f":39.5,"H1":2.65e-10,"H2":2.95e-10,"H3":2.8e-10,"V1":3.6e-10,"V2":3.1e-10,"V3":3.2e-10},
      {"f":40.0,"H1":5.1e-10,"H2":5.0e-10,"H3":4.6e-10,"V1":6.6e-10,"V2":6.1e-10,"V3":6.1e-10},
      {"f":40.5,"H1":2.85e-10,"H2":2.65e-10,"H3":3.0e-10,"V1":3.9e-10,"V2":3.3e-10,"V3":3.1e-10},
      {"f":41.0,"H1":4.8e-10,"H2":4.7e-10,"H3":5.0e-10,"V1":6.2e-10,"V2":6.5e-10,"V3":5.6e-10},
      {"f":41.5,"H1":2.75e-10,"H2":2.85e-10,"H3":2.9e-10,"V1":3.8e-10,"V2":3.5e-10,"V3":2.9e-10},
      {"f":42.0,"H1":4.9e-10,"H2":5.2e-10,"H3":4.8e-10,"V1":6.8e-10,"V2":5.9e-10,"V3":5.9e-10},
      {"f":42.5,"H1":3.0e-10,"H2":2.75e-10,"H3":3.2e-10,"V1":3.7e-10,"V2":3.2e-10,"V3":3.3e-10},
      {"f":43.0,"H1":4.6e-10,"H2":4.8e-10,"H3":5.1e-10,"V1":6.4e-10,"V2":6.3e-10,"V3":5.3e-10},
      {"f":43.5,"H1":2.95e-10,"H2":2.95e-10,"H3":3.1e-10,"V1":3.6e-10,"V2":3.4e-10,"V3":3.0e-10},
      {"f":44.0,"H1":5.1e-10,"H2":5.1e-10,"H3":4.6e-10,"V1":6.0e-10,"V2":6.6e-10,"V3":6.0e-10},
      {"f":44.5,"H1":2.65e-10,"H2":2.65e-10,"H3":2.8e-10,"V1":3.9e-10,"V2":3.6e-10,"V3":3.2e-10},
      {"f":45.0,"H1":4.8e-10,"H2":2.56e-9,"H3":5.0e-10,"V1":1.78e-9,"V2":1.4e-9,"V3":1.45e-9},
      {"f":45.5,"H1":2.85e-10,"H2":2.85e-10,"H3":3.0e-10,"V1":3.8e-10,"V2":3.1e-10,"V3":3.1e-10},
      {"f":46.0,"H1":4.9e-10,"H2":4.7e-10,"H3":4.8e-10,"V1":6.6e-10,"V2":6.5e-10,"V3":5.4e-10},
      {"f":46.5,"H1":2.75e-10,"H2":2.75e-10,"H3":2.9e-10,"V1":3.7e-10,"V2":3.3e-10,"V3":2.9e-10},
      {"f":47.0,"H1":4.6e-10,"H2":5.2e-10,"H3":5.1e-10,"V1":6.2e-10,"V2":5.9e-10,"V3":6.1e-10},
      {"f":47.5,"H1":3.0e-10,"H2":2.95e-10,"H3":3.2e-10,"V1":3.6e-10,"V2":3.5e-10,"V3":3.3e-10},
      {"f":48.0,"H1":5.1e-10,"H2":4.8e-10,"H3":4.6e-10,"V1":6.8e-10,"V2":6.3e-10,"V3":5.6e-10},
      {"f":48.5,"H1":2.95e-10,"H2":2.65e-10,"H3":3.1e-10,"V1":3.9e-10,"V2":3.2e-10,"V3":3.0e-10},
      {"f":49.0,"H1":4.8e-10,"H2":5.1e-10,"H3":5.0e-10,"V1":6.4e-10,"V2":6.6e-10,"V3":5.9e-10},
      {"f":49.5,"H1":2.65e-10,"H2":2.85e-10,"H3":2.8e-10,"V1":3.8e-10,"V2":3.4e-10,"V3":3.2e-10},
      {"f":50,"H1":4.9e-10,"H2":5.0e-10,"H3":4.8e-10,"V1":6.0e-10,"V2":6.1e-10,"V3":5.3e-10},
      {"f":51,"H1":2.85e-10,"H2":2.75e-10,"H3":3.0e-10,"V1":3.7e-10,"V2":3.6e-10,"V3":3.1e-10},
      {"f":52,"H1":4.6e-10,"H2":4.7e-10,"H3":5.1e-10,"V1":6.7e-10,"V2":6.5e-10,"V3":6.0e-10},
      {"f":53,"H1":2.75e-10,"H2":2.95e-10,"H3":2.9e-10,"V1":3.6e-10,"V2":3.1e-10,"V3":2.9e-10},
      {"f":54,"H1":5.1e-10,"H2":5.2e-10,"H3":4.6e-10,"V1":6.6e-10,"V2":5.9e-10,"V3":5.8e-10},
      {"f":55,"H1":3.0e-10,"H2":2.65e-10,"H3":3.2e-10,"V1":3.9e-10,"V2":8.96e-10,"V3":8.65e-10},
      {"f":56,"H1":4.8e-10,"H2":4.8e-10,"H3":5.0e-10,"V1":6.2e-10,"V2":6.3e-10,"V3":5.4e-10},
      {"f":57,"H1":2.95e-10,"H2":2.85e-10,"H3":3.1e-10,"V1":3.8e-10,"V2":3.5e-10,"V3":3.0e-10},
      {"f":58,"H1":4.9e-10,"H2":5.1e-10,"H3":4.8e-10,"V1":6.8e-10,"V2":6.6e-10,"V3":6.1e-10},
      {"f":59,"H1":2.65e-10,"H2":2.75e-10,"H3":1.22e-9,"V1":1.03e-9,"V2":3.2e-10,"V3":3.2e-10},
      {"f":60,"H1":4.6e-10,"H2":5.0e-10,"H3":8.4e-10,"V1":6.4e-10,"V2":6.1e-10,"V3":5.6e-10},
      {"f":61,"H1":2.85e-10,"H2":2.95e-10,"H3":3.0e-10,"V1":3.6e-10,"V2":3.4e-10,"V3":3.1e-10},
      {"f":62,"H1":5.1e-10,"H2":4.7e-10,"H3":4.6e-10,"V1":6.0e-10,"V2":6.5e-10,"V3":5.9e-10},
      {"f":63,"H1":2.75e-10,"H2":2.65e-10,"H3":9.1e-10,"V1":3.9e-10,"V2":3.6e-10,"V3":2.9e-10},
      {"f":64,"H1":4.8e-10,"H2":5.2e-10,"H3":5.0e-10,"V1":6.7e-10,"V2":5.9e-10,"V3":5.3e-10},
      {"f":65,"H1":3.0e-10,"H2":2.85e-10,"H3":3.2e-10,"V1":8.96e-10,"V2":3.1e-10,"V3":3.3e-10},
      {"f":66,"H1":4.9e-10,"H2":4.8e-10,"H3":4.8e-10,"V1":6.6e-10,"V2":6.3e-10,"V3":6.0e-10},
      {"f":67,"H1":2.95e-10,"H2":2.75e-10,"H3":3.1e-10,"V1":3.7e-10,"V2":3.3e-10,"V3":3.0e-10},
      {"f":68,"H1":4.6e-10,"H2":5.1e-10,"H3":5.1e-10,"V1":6.2e-10,"V2":6.6e-10,"V3":5.8e-10},
      {"f":69,"H1":2.65e-10,"H2":2.95e-10,"H3":2.8e-10,"V1":3.6e-10,"V2":3.5e-10,"V3":3.2e-10},
      {"f":70,"H1":5.1e-10,"H2":5.0e-10,"H3":4.6e-10,"V1":6.8e-10,"V2":6.1e-10,"V3":5.4e-10},
      {"f":71,"H1":2.85e-10,"H2":2.65e-10,"H3":3.0e-10,"V1":3.9e-10,"V2":3.2e-10,"V3":3.1e-10},
      {"f":72,"H1":4.8e-10,"H2":4.7e-10,"H3":5.0e-10,"V1":6.4e-10,"V2":6.5e-10,"V3":6.1e-10},
      {"f":73,"H1":2.75e-10,"H2":2.85e-10,"H3":2.9e-10,"V1":3.8e-10,"V2":3.4e-10,"V3":2.9e-10},
      {"f":74,"H1":4.9e-10,"H2":5.2e-10,"H3":4.8e-10,"V1":6.0e-10,"V2":5.9e-10,"V3":5.6e-10},
      {"f":75,"H1":3.0e-10,"H2":2.75e-10,"H3":3.2e-10,"V1":3.7e-10,"V2":3.6e-10,"V3":3.3e-10},
      {"f":76,"H1":4.6e-10,"H2":4.8e-10,"H3":5.1e-10,"V1":6.7e-10,"V2":6.3e-10,"V3":5.9e-10},
      {"f":77,"H1":2.95e-10,"H2":2.95e-10,"H3":3.1e-10,"V1":3.6e-10,"V2":3.1e-10,"V3":3.0e-10},
      {"f":78,"H1":5.1e-10,"H2":5.1e-10,"H3":4.6e-10,"V1":6.6e-10,"V2":6.6e-10,"V3":5.3e-10},
      {"f":79,"H1":2.65e-10,"H2":2.65e-10,"H3":2.8e-10,"V1":3.9e-10,"V2":3.3e-10,"V3":3.2e-10},
      {"f":80,"H1":4.8e-10,"H2":5.0e-10,"H3":5.0e-10,"V1":6.2e-10,"V2":6.1e-10,"V3":6.0e-10},
      {"f":81,"H1":2.85e-10,"H2":2.85e-10,"H3":3.0e-10,"V1":3.8e-10,"V2":3.5e-10,"V3":3.1e-10},
      {"f":82,"H1":4.9e-10,"H2":4.7e-10,"H3":4.8e-10,"V1":6.8e-10,"V2":6.5e-10,"V3":5.8e-10},
      {"f":83,"H1":2.75e-10,"H2":2.75e-10,"H3":2.9e-10,"V1":3.7e-10,"V2":3.2e-10,"V3":2.9e-10},
      {"f":84,"H1":4.6e-10,"H2":5.2e-10,"H3":5.1e-10,"V1":6.4e-10,"V2":5.9e-10,"V3":5.4e-10},
      {"f":85,"H1":3.0e-10,"H2":2.95e-10,"H3":3.2e-10,"V1":3.6e-10,"V2":3.4e-10,"V3":3.3e-10},
      {"f":86,"H1":5.1e-10,"H2":4.8e-10,"H3":4.6e-10,"V1":6.0e-10,"V2":6.3e-10,"V3":6.1e-10},
      {"f":87,"H1":2.95e-10,"H2":2.65e-10,"H3":3.1e-10,"V1":3.9e-10,"V2":3.6e-10,"V3":3.0e-10},
      {"f":88,"H1":4.8e-10,"H2":5.1e-10,"H3":5.0e-10,"V1":6.7e-10,"V2":6.6e-10,"V3":5.6e-10},
      {"f":89,"H1":2.65e-10,"H2":2.85e-10,"H3":2.8e-10,"V1":3.8e-10,"V2":3.1e-10,"V3":3.2e-10},
      {"f":90,"H1":4.9e-10,"H2":5.0e-10,"H3":4.8e-10,"V1":6.6e-10,"V2":6.1e-10,"V3":5.9e-10},
      {"f":91,"H1":2.85e-10,"H2":2.75e-10,"H3":3.0e-10,"V1":3.7e-10,"V2":3.3e-10,"V3":3.1e-10},
      {"f":92,"H1":4.6e-10,"H2":4.7e-10,"H3":5.1e-10,"V1":6.2e-10,"V2":6.5e-10,"V3":5.3e-10},
      {"f":93,"H1":2.75e-10,"H2":2.95e-10,"H3":2.9e-10,"V1":3.6e-10,"V2":3.5e-10,"V3":2.9e-10},
      {"f":94,"H1":5.1e-10,"H2":5.2e-10,"H3":4.6e-10,"V1":6.8e-10,"V2":5.9e-10,"V3":6.0e-10},
      {"f":95,"H1":3.0e-10,"H2":2.65e-10,"H3":3.2e-10,"V1":3.9e-10,"V2":3.2e-10,"V3":3.3e-10},
      {"f":96,"H1":4.8e-10,"H2":4.8e-10,"H3":5.0e-10,"V1":6.4e-10,"V2":6.3e-10,"V3":5.8e-10},
      {"f":97,"H1":2.95e-10,"H2":2.85e-10,"H3":3.1e-10,"V1":3.8e-10,"V2":3.4e-10,"V3":3.0e-10},
      {"f":98,"H1":4.9e-10,"H2":5.1e-10,"H3":4.8e-10,"V1":6.0e-10,"V2":6.6e-10,"V3":5.4e-10},
      {"f":99,"H1":2.65e-10,"H2":2.75e-10,"H3":2.8e-10,"V1":3.7e-10,"V2":3.6e-10,"V3":3.2e-10},
      {"f":100,"H1":4.6e-10,"H2":5.0e-10,"H3":5.1e-10,"V1":6.7e-10,"V2":6.1e-10,"V3":6.1e-10},
      {"f":102,"H1":2.85e-10,"H2":2.95e-10,"H3":3.0e-10,"V1":3.6e-10,"V2":3.1e-10,"V3":3.1e-10},
      {"f":104,"H1":5.1e-10,"H2":4.7e-10,"H3":4.6e-10,"V1":6.6e-10,"V2":6.5e-10,"V3":5.6e-10},
      {"f":106,"H1":2.75e-10,"H2":2.65e-10,"H3":2.9e-10,"V1":3.9e-10,"V2":3.3e-10,"V3":2.9e-10},
      {"f":108,"H1":4.8e-10,"H2":5.2e-10,"H3":5.0e-10,"V1":6.2e-10,"V2":5.9e-10,"V3":5.9e-10},
      {"f":110,"H1":3.0e-10,"H2":2.85e-10,"H3":3.2e-10,"V1":3.8e-10,"V2":3.5e-10,"V3":3.3e-10},
      {"f":112,"H1":4.9e-10,"H2":4.8e-10,"H3":4.8e-10,"V1":6.8e-10,"V2":6.3e-10,"V3":5.3e-10},
      {"f":114,"H1":2.95e-10,"H2":2.75e-10,"H3":3.1e-10,"V1":3.7e-10,"V2":3.2e-10,"V3":3.0e-10},
      {"f":116,"H1":4.6e-10,"H2":5.1e-10,"H3":5.1e-10,"V1":6.4e-10,"V2":6.6e-10,"V3":6.0e-10},
      {"f":118,"H1":2.65e-10,"H2":2.95e-10,"H3":2.8e-10,"V1":3.6e-10,"V2":3.4e-10,"V3":3.2e-10},
      {"f":120,"H1":5.1e-10,"H2":5.0e-10,"H3":4.6e-10,"V1":6.0e-10,"V2":6.1e-10,"V3":5.8e-10},
      {"f":122,"H1":2.85e-10,"H2":2.65e-10,"H3":3.0e-10,"V1":3.9e-10,"V2":3.6e-10,"V3":3.1e-10},
      {"f":124,"H1":4.8e-10,"H2":4.7e-10,"H3":5.0e-10,"V1":6.7e-10,"V2":6.5e-10,"V3":5.4e-10},
      {"f":126,"H1":2.75e-10,"H2":2.85e-10,"H3":2.9e-10,"V1":3.8e-10,"V2":3.1e-10,"V3":2.9e-10},
      {"f":128,"H1":4.9e-10,"H2":5.2e-10,"H3":4.8e-10,"V1":6.6e-10,"V2":5.9e-10,"V3":6.1e-10},
      {"f":130,"H1":3.0e-10,"H2":2.75e-10,"H3":3.2e-10,"V1":3.7e-10,"V2":3.3e-10,"V3":3.3e-10},
      {"f":132,"H1":4.6e-10,"H2":4.8e-10,"H3":5.1e-10,"V1":6.2e-10,"V2":6.3e-10,"V3":5.6e-10},
      {"f":134,"H1":2.95e-10,"H2":2.95e-10,"H3":3.1e-10,"V1":3.6e-10,"V2":3.5e-10,"V3":3.0e-10},
      {"f":136,"H1":5.1e-10,"H2":5.1e-10,"H3":4.6e-10,"V1":6.8e-10,"V2":6.6e-10,"V3":5.9e-10},
      {"f":138,"H1":2.65e-10,"H2":2.65e-10,"H3":2.8e-10,"V1":3.9e-10,"V2":3.2e-10,"V3":3.2e-10},
      {"f":140,"H1":4.8e-10,"H2":5.0e-10,"H3":5.0e-10,"V1":6.4e-10,"V2":6.1e-10,"V3":5.3e-10},
      {"f":142,"H1":2.85e-10,"H2":2.85e-10,"H3":3.0e-10,"V1":3.8e-10,"V2":3.4e-10,"V3":3.1e-10},
      {"f":144,"H1":4.9e-10,"H2":4.7e-10,"H3":4.8e-10,"V1":6.0e-10,"V2":6.5e-10,"V3":6.0e-10},
      {"f":146,"H1":2.75e-10,"H2":2.75e-10,"H3":2.9e-10,"V1":3.7e-10,"V2":3.6e-10,"V3":2.9e-10},
      {"f":148,"H1":4.6e-10,"H2":5.2e-10,"H3":5.1e-10,"V1":6.7e-10,"V2":5.9e-10,"V3":5.8e-10},
      {"f":150,"H1":3.0e-10,"H2":2.95e-10,"H3":3.2e-10,"V1":3.6e-10,"V2":3.1e-10,"V3":3.3e-10},
      {"f":152,"H1":5.1e-10,"H2":4.8e-10,"H3":4.6e-10,"V1":6.6e-10,"V2":6.3e-10,"V3":5.4e-10},
      {"f":154,"H1":2.95e-10,"H2":2.65e-10,"H3":3.1e-10,"V1":3.9e-10,"V2":3.3e-10,"V3":3.0e-10},
      {"f":156,"H1":4.8e-10,"H2":5.1e-10,"H3":5.0e-10,"V1":6.2e-10,"V2":6.6e-10,"V3":6.1e-10},
      {"f":158,"H1":2.65e-10,"H2":2.85e-10,"H3":2.8e-10,"V1":3.8e-10,"V2":3.5e-10,"V3":3.2e-10},
      {"f":160,"H1":4.9e-10,"H2":5.0e-10,"H3":4.8e-10,"V1":6.8e-10,"V2":6.1e-10,"V3":5.6e-10},
      {"f":162,"H1":2.85e-10,"H2":2.75e-10,"H3":3.0e-10,"V1":3.7e-10,"V2":3.2e-10,"V3":3.1e-10},
      {"f":164,"H1":4.6e-10,"H2":4.7e-10,"H3":5.1e-10,"V1":6.4e-10,"V2":6.5e-10,"V3":5.9e-10},
      {"f":166,"H1":2.75e-10,"H2":2.95e-10,"H3":2.9e-10,"V1":3.6e-10,"V2":3.4e-10,"V3":2.9e-10},
      {"f":168,"H1":5.1e-10,"H2":5.2e-10,"H3":4.6e-10,"V1":6.0e-10,"V2":5.9e-10,"V3":5.3e-10},
      {"f":170,"H1":3.0e-10,"H2":2.65e-10,"H3":3.2e-10,"V1":3.9e-10,"V2":3.6e-10,"V3":3.3e-10},
      {"f":172,"H1":4.8e-10,"H2":4.8e-10,"H3":5.0e-10,"V1":6.7e-10,"V2":6.3e-10,"V3":6.0e-10},
      {"f":174,"H1":2.95e-10,"H2":2.85e-10,"H3":3.1e-10,"V1":3.8e-10,"V2":3.1e-10,"V3":3.0e-10},
      {"f":176,"H1":4.9e-10,"H2":5.1e-10,"H3":4.8e-10,"V1":6.6e-10,"V2":6.6e-10,"V3":5.8e-10},
      {"f":178,"H1":2.65e-10,"H2":2.75e-10,"H3":2.8e-10,"V1":3.7e-10,"V2":3.3e-10,"V3":3.2e-10},
      {"f":180,"H1":4.6e-10,"H2":5.0e-10,"H3":5.1e-10,"V1":6.2e-10,"V2":6.1e-10,"V3":5.4e-10},
      {"f":182,"H1":2.85e-10,"H2":2.95e-10,"H3":3.0e-10,"V1":3.6e-10,"V2":3.5e-10,"V3":3.1e-10},
      {"f":184,"H1":5.1e-10,"H2":4.7e-10,"H3":4.6e-10,"V1":6.8e-10,"V2":6.5e-10,"V3":6.1e-10},
      {"f":186,"H1":2.75e-10,"H2":2.65e-10,"H3":2.9e-10,"V1":3.9e-10,"V2":3.2e-10,"V3":2.9e-10},
      {"f":188,"H1":4.8e-10,"H2":5.2e-10,"H3":5.0e-10,"V1":6.4e-10,"V2":5.9e-10,"V3":5.6e-10},
      {"f":190,"H1":3.0e-10,"H2":2.85e-10,"H3":3.2e-10,"V1":3.8e-10,"V2":3.4e-10,"V3":3.3e-10},
      {"f":192,"H1":4.9e-10,"H2":4.8e-10,"H3":4.8e-10,"V1":6.0e-10,"V2":6.3e-10,"V3":5.9e-10},
      {"f":194,"H1":2.95e-10,"H2":2.75e-10,"H3":3.1e-10,"V1":3.7e-10,"V2":3.6e-10,"V3":3.0e-10},
      {"f":196,"H1":4.6e-10,"H2":5.1e-10,"H3":5.1e-10,"V1":6.7e-10,"V2":6.6e-10,"V3":5.3e-10},
      {"f":198,"H1":2.65e-10,"H2":2.95e-10,"H3":2.8e-10,"V1":3.6e-10,"V2":3.1e-10,"V3":3.2e-10},
      {"f":200,"H1":5.1e-10,"H2":5.0e-10,"H3":4.6e-10,"V1":6.6e-10,"V2":6.1e-10,"V3":6.0e-10}
    ],
    "ade": [
      {"f":0.01,"v":5.0e-9,"s":"ADE"},
      {"f":0.1,"v":1.0e-9,"s":"ADE"},
      {"f":0.7,"v":4.0e-10,"s":"ADE"},
      {"f":100,"v":4.0e-10,"s":"ADE"}
    ]
  },
  "layer": [
    {
      "data": {"name": "cps"},
      "transform": [
        {"fold": ["H1", "H2", "H3", "V1", "V2", "V3"], "as": ["s", "v"]}
      ],
      "mark": {"type": "line", "strokeWidth": 4, "strokeJoin": "round", "clip": true},
      "encoding": {
        "x": {
          "field": "f",
          "type": "quantitative",
          "scale": {"type": "log", "domain": [0.01, 200], "nice": false},
          "axis": {
            "orient": "bottom",
            "values": [0.01,0.02,0.03,0.04,0.05,0.06,0.07,0.08,0.09,0.1,0.2,0.3,0.4,0.5,0.6,0.7,0.8,0.9,1,2,3,4,5,6,7,8,9,10,20,30,40,50,60,70,80,90,100,200],
            "labelExpr": "datum.value === 0.01 ? '10⁻²' : datum.value === 0.1 ? '10⁻¹' : datum.value === 1 ? '10⁰' : datum.value === 10 ? '10¹' : datum.value === 100 ? '10²' : ''",
            "labelFont": "DejaVu Sans",
            "labelFontSize": 15,
            "labelColor": "black",
            "labelFlush": false,
            "labelOverlap": false,
            "labelBound": false,
            "labelPadding": 3,
            "tickSize": {"condition": {"test": "abs(log(datum.value)/LN10 - round(log(datum.value)/LN10)) < 0.001", "value": 7}, "value": 4},
            "tickColor": "black",
            "tickWidth": 1.4,
            "domain": false,
            "grid": true,
            "gridColor": "#b0b0b0",
            "gridWidth": 1.3,
            "title": "Freq (hz)",
            "titleFont": "DejaVu Sans",
            "titleFontSize": 25,
            "titleFontWeight": "normal",
            "titleColor": "black",
            "titleX": 930,
            "titleY": 45,
            "titleBaseline": "middle",
            "titleAlign": "center"
          }
        },
        "y": {
          "field": "v",
          "type": "quantitative",
          "scale": {"type": "log", "domain": [4.8e-11, 1.45e-7], "nice": false},
          "axis": {
            "orient": "left",
            "values": [5e-11,6e-11,7e-11,8e-11,9e-11,1e-10,2e-10,3e-10,4e-10,5e-10,6e-10,7e-10,8e-10,9e-10,1e-9,2e-9,3e-9,4e-9,5e-9,6e-9,7e-9,8e-9,9e-9,1e-8,2e-8,3e-8,4e-8,5e-8,6e-8,7e-8,8e-8,9e-8,1e-7],
            "labelExpr": "datum.value === 1e-7 ? '10⁻⁷' : datum.value === 1e-8 ? '10⁻⁸' : datum.value === 1e-9 ? '10⁻⁹' : datum.value === 1e-10 ? '10⁻¹⁰' : ''",
            "labelFont": "DejaVu Sans",
            "labelFontSize": 15,
            "labelColor": "black",
            "labelOverlap": false,
            "labelBound": false,
            "labelPadding": 4,
            "tickSize": {"condition": {"test": "abs(log(datum.value)/LN10 - round(log(datum.value)/LN10)) < 0.001", "value": 7}, "value": 4},
            "tickColor": "black",
            "tickWidth": 1.4,
            "domain": false,
            "grid": true,
            "gridColor": "#b0b0b0",
            "gridWidth": 1.3,
            "title": "m/rthz",
            "titleFont": "DejaVu Sans",
            "titleFontSize": 25,
            "titleFontWeight": "normal",
            "titleColor": "black",
            "titleAngle": 270,
            "titleX": -66,
            "titleY": 620,
            "titleBaseline": "middle",
            "titleAlign": "center"
          }
        },
        "color": {
          "field": "s",
          "type": "nominal",
          "scale": {
            "domain": ["H1", "H2", "H3", "V1", "V2", "V3", "ADE"],
            "range": ["#1f77b4", "#ff7f0e", "#2ca02c", "#d62728", "#9467bd", "#8c564b", "#e377c2"]
          },
          "legend": {
            "orient": "none",
            "legendX": 1500,
            "legendY": 15,
            "title": null,
            "labelExpr": "datum.label === 'ADE' ? 'ADE 1mm noise' : 'HAM2_CPSINF_' + datum.label",
            "labelFont": "DejaVu Sans",
            "labelFontSize": 27.5,
            "labelColor": "black",
            "labelLimit": 600,
            "labelOffset": 34.25,
            "symbolType": "M-2,0H2",
            "symbolSize": 841,
            "symbolOffset": 13.25,
            "symbolStrokeWidth": 4.5,
            "rowPadding": 12,
            "padding": 8,
            "fillColor": "rgba(255,255,255,0.8)",
            "strokeColor": "#cccccc",
            "cornerRadius": 4
          }
        }
      }
    },
    {
      "data": {"name": "ade"},
      "mark": {"type": "line", "strokeWidth": 4, "clip": true},
      "encoding": {
        "x": {
          "field": "f",
          "type": "quantitative",
          "axis": {
            "orient": "bottom",
            "labels": false,
            "ticks": false,
            "domain": false,
            "grid": false,
            "title": "calibration only >10hz",
            "titleFont": "DejaVu Sans",
            "titleFontSize": 16.5,
            "titleFontWeight": "normal",
            "titleColor": "black",
            "titleX": 922,
            "titleY": 88,
            "titleBaseline": "middle",
            "titleAlign": "center"
          }
        },
        "y": {
          "field": "v",
          "type": "quantitative",
          "axis": {
            "orient": "right",
            "labels": false,
            "ticks": false,
            "domain": false,
            "grid": false,
            "title": "/opt/rtcds/userapps/trunk/sys/h1/scripts/HAM_cps_spectra.py",
            "titleFont": "DejaVu Sans",
            "titleFontSize": 16.5,
            "titleFontWeight": "normal",
            "titleColor": "black",
            "titleAngle": 270,
            "titleX": 130,
            "titleY": 691,
            "titleBaseline": "middle",
            "titleAlign": "center"
          }
        },
        "color": {"field": "s", "type": "nominal"}
      }
    }
  ],
  "resolve": {"axis": {"x": "independent", "y": "independent"}}
}
